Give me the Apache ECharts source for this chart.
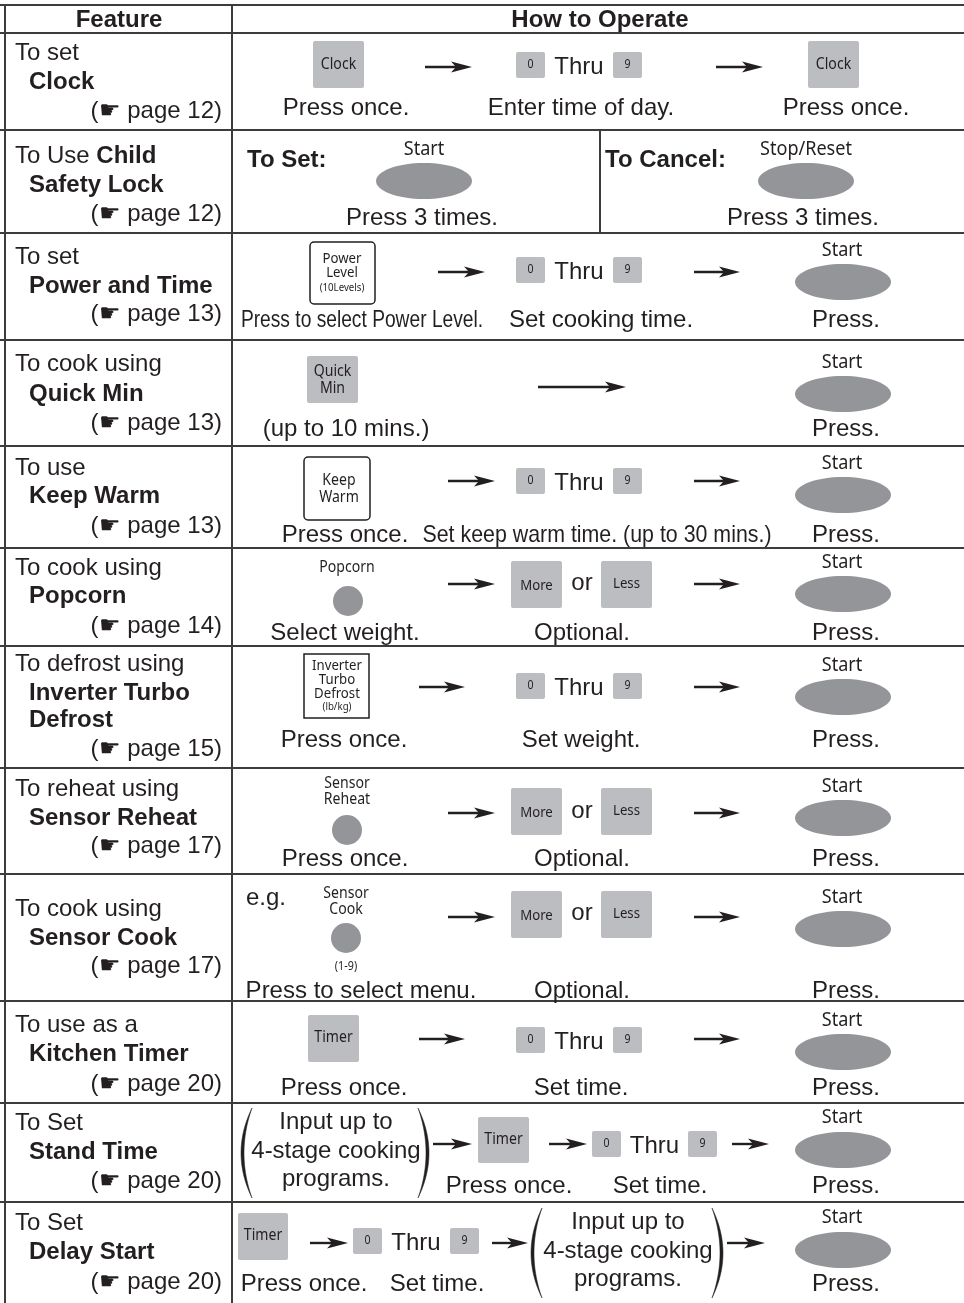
<!DOCTYPE html>
<html><head><meta charset="utf-8">
<script src="https://cdn.jsdelivr.net/npm/echarts@6/dist/echarts.min.js"></script>
<style>html,body{margin:0;padding:0;background:#fff}#c{width:964px;height:1303px}</style>
</head><body><div id="c"></div>
<script>
// ================= CONTENT =================
const headers = ['Feature', 'How to Operate'];
const featureIntro = ['To set', 'To Use ', 'To set', 'To cook using', 'To use', 'To cook using', 'To defrost using', 'To reheat using', 'To cook using', 'To use as a', 'To Set', 'To Set'];
const featureName = ['Clock', 'Child', 'Power and Time', 'Quick Min', 'Keep Warm', 'Popcorn', 'Inverter Turbo', 'Sensor Reheat', 'Sensor Cook', 'Kitchen Timer', 'Stand Time', 'Delay Start'];
const featureName2 = ['', 'Safety Lock', '', '', '', '', 'Defrost', '', '', '', '', ''];
const pageRefs = ['12', '12', '13', '13', '13', '14', '15', '17', '17', '20', '20', '20'];
const keyLabels = {
  clock: ['Clock'], power: ['Power', 'Level', '(10Levels)'], quick: ['Quick', 'Min'],
  keep: ['Keep', 'Warm'], popcorn: ['Popcorn'], defrost: ['Inverter', 'Turbo', 'Defrost', '(lb/kg)'],
  reheat: ['Sensor', 'Reheat'], cook: ['Sensor', 'Cook', '(1-9)'], timer: ['Timer'],
  more: 'More', less: 'Less', zero: '0', nine: '9', start: 'Start', stop: 'Stop/Reset'
};
const words = { thru: 'Thru', or: 'or', eg: 'e.g.', toSet: 'To Set:', toCancel: 'To Cancel:' };
const program = ['Input up to', '4-stage cooking', 'programs.'];
const captions = [
  ['Press once.', 'Enter time of day.', 'Press once.'],
  ['Press 3 times.', 'Press 3 times.'],
  ['Press to select Power Level.', 'Set cooking time.', 'Press.'],
  ['(up to 10 mins.)', 'Press.'],
  ['Press once.', 'Set keep warm time. (up to 30 mins.)', 'Press.'],
  ['Select weight.', 'Optional.', 'Press.'],
  ['Press once.', 'Set weight.', 'Press.'],
  ['Press once.', 'Optional.', 'Press.'],
  ['Press to select menu.', 'Optional.', 'Press.'],
  ['Press once.', 'Set time.', 'Press.'],
  ['Press once.', 'Set time.', 'Press.'],
  ['Press once.', 'Set time.', 'Press.']
];

// ================= LAYOUT / STYLE =================
const INK = '#231f20', LINE = '#3c3c3c', KEY = '#bcbdc0', BTN = '#939598';
const SANS = '"Liberation Sans", Arial, Helvetica, sans-serif';
const KEYF = '"Noto Sans", "Open Sans", sans-serif';
const BODY = 24, TEXT_DY = 1.5;
const els = [];
const T = (x, y, text, o) => els.push(Object.assign({ k: 't', x, y, text }, o || {}));
const R = (x1, y1, x2, y2, o) => els.push(Object.assign({ k: 'r', x1, y1, x2, y2 }, o || {}));
const E = (cx, cy, rx, ry) => els.push({ k: 'e', cx, cy, rx, ry });
const C = (cx, cy, r) => els.push({ k: 'c', cx, cy, r });
const A = (x1, x2, y) => els.push({ k: 'a', x1, x2, y });
const L = (x1, y1, x2, y2, w) => els.push({ k: 'l', x1, y1, x2, y2, w: w || 1.8 });
const P = (x, y1, y2, dir) => els.push({ k: 'p', x, y1, y2, dir });

const body = (x, y, text, extra) => T(x, y, text, Object.assign({ size: BODY }, extra || {}));
const cap = (x, y, text) => body(x, y, text, { align: 'center' });
const narrow = (x, y, text, sx) => body(x, y, text, { align: 'center', sx: sx });
const grayKey = (x1, y1, x2, y2, lines, size, dy) => {
  R(x1, y1, x2, y2, { fill: KEY, r: 2 });
  const cx = (x1 + x2) / 2, cy = (y1 + y2) / 2 + (dy || 0);
  const lh = size + 1;
  lines.forEach((s, i) => T(cx, cy + (i - (lines.length - 1) / 2) * lh, s, { font: KEYF, size, align: 'center', sx: 0.88 }));
};
const digits = (x0, y, x9) => {
  grayKey(x0, y - 13, x0 + 29, y + 13, [keyLabels.zero], 12);
  body((x0 + 29 + x9) / 2, y + 1, words.thru, { align: 'center' });
  grayKey(x9, y - 13, x9 + 29, y + 13, [keyLabels.nine], 12);
};
const startBtn = (ty, ey, cx, label) => {
  T(cx || 842, ty, label || keyLabels.start, { font: KEYF, size: 19, align: 'center', sx: 0.95 });
  E(cx || 843, ey, 48, 18);
};
const moreLess = (ytop, ly) => {
  grayKey(511, ytop, 562, ytop + 47, [keyLabels.more], 15, 1);
  body(582, ly, words.or, { align: 'center' });
  grayKey(601, ytop, 652, ytop + 47, [keyLabels.less], 15, -1);
};
const programText = (cx, y) => program.forEach((s, i) => cap(cx, y + i * 28.5, s));

// --- table frame ---
const rowEdges = [33, 130, 233, 340, 446, 548, 646, 768, 874, 1001, 1103, 1202];
L(0, 5, 964, 5, 2);
rowEdges.forEach(y => L(0, y, 964, y, 2));
L(5, 5, 5, 1303, 2);
L(232, 5, 232, 1303, 2);
L(600, 130, 600, 233, 2);

// --- header ---
T(119, 19, headers[0], { size: BODY, bold: true, align: 'center' });
T(600, 19, headers[1], { size: BODY, bold: true, align: 'center' });

// --- feature column ---
const introY = [52, 155, 256, 363, 467, 567, 663, 788, 908, 1024, 1122, 1222];
const nameY = [81, 184, 285, 393, 495, 595, 692, 817, 937, 1053, 1151, 1251];
const pageY = [110, 213, 313, 422, 525, 625, 748, 845, 965, 1083, 1180, 1281];
featureIntro.forEach((s, i) => {
  if (i === 1) {
    body(15, introY[i], s, { rich: featureName[i] });
    body(29, nameY[i], featureName2[i], { bold: true });
  } else {
    body(15, introY[i], s);
    body(29, nameY[i], featureName[i], { bold: true });
    if (featureName2[i]) body(29, 719, featureName2[i], { bold: true });
  }
  body(222, pageY[i], '(\u261B page ' + pageRefs[i] + ')', { align: 'right' });
});

// --- row 1: Clock ---
grayKey(313, 41, 364, 88, keyLabels.clock, 16);
A(425, 472, 67);
digits(516, 65, 613);
A(716, 763, 67);
grayKey(808, 41, 859, 88, keyLabels.clock, 16);
cap(346, 107, captions[0][0]); cap(581, 107, captions[0][1]); cap(846, 107, captions[0][2]);

// --- row 2: Child Safety Lock ---
body(247, 159, words.toSet, { bold: true });
startBtn(150, 181, 424);
cap(422, 217, captions[1][0]);
body(605, 159, words.toCancel, { bold: true });
startBtn(150, 181, 806, keyLabels.stop);
cap(803, 217, captions[1][1]);

// --- row 3: Power and Time ---
R(310, 242, 375, 304, { fill: '#fff', stroke: INK, r: 4 });
T(342, 259, keyLabels.power[0], { font: KEYF, size: 15, align: 'center', sx: 0.88 });
T(342, 273, keyLabels.power[1], { font: KEYF, size: 15, align: 'center', sx: 0.88 });
T(342, 288, keyLabels.power[2], { font: KEYF, size: 11, align: 'center', sx: 0.88 });
A(438, 485, 272);
digits(516, 270, 613);
A(694, 740, 272);
startBtn(251, 282);
narrow(362, 319, captions[2][0], 0.8); cap(601, 319, captions[2][1]); cap(846, 319, captions[2][2]);

// --- row 4: Quick Min ---
grayKey(307, 356, 358, 403, keyLabels.quick, 16);
A(538, 626, 387);
startBtn(363, 394);
cap(346, 428, captions[3][0]); cap(846, 428, captions[3][1]);

// --- row 5: Keep Warm ---
R(304, 457, 370, 520, { fill: '#fff', stroke: INK, r: 4 });
T(339, 480, keyLabels.keep[0], { font: KEYF, size: 16, align: 'center', sx: 0.88 });
T(339, 497, keyLabels.keep[1], { font: KEYF, size: 16, align: 'center', sx: 0.88 });
A(448, 495, 481);
digits(516, 481, 613);
A(694, 740, 481);
startBtn(464, 495);
cap(345, 534, captions[4][0]); narrow(597, 534, captions[4][1], 0.89); cap(846, 534, captions[4][2]);

// --- row 6: Popcorn ---
T(347, 567, keyLabels.popcorn[0], { font: KEYF, size: 16, align: 'center', sx: 0.88 });
C(348, 601, 15);
A(448, 495, 584);
moreLess(561, 582);
A(694, 740, 584);
startBtn(563, 594);
cap(345, 632, captions[5][0]); cap(582, 632, captions[5][1]); cap(846, 632, captions[5][2]);

// --- row 7: Inverter Turbo Defrost ---
R(304, 654, 369, 718, { fill: '#fff', stroke: INK, r: 0 });
keyLabels.defrost.forEach((s, i) => T(337, [666, 680, 694, 707][i], s, { font: KEYF, size: i === 3 ? 11 : 15, align: 'center', sx: 0.88 }));
A(419, 465, 687);
digits(516, 686, 613);
A(694, 740, 687);
startBtn(666, 697);
cap(344, 739, captions[6][0]); cap(581, 739, captions[6][1]); cap(846, 739, captions[6][2]);

// --- row 8: Sensor Reheat ---
T(347, 783, keyLabels.reheat[0], { font: KEYF, size: 16, align: 'center', sx: 0.88 });
T(347, 799, keyLabels.reheat[1], { font: KEYF, size: 16, align: 'center', sx: 0.88 });
C(347, 830, 15);
A(448, 495, 813);
moreLess(788, 810);
A(694, 740, 813);
startBtn(787, 818);
cap(345, 858, captions[7][0]); cap(582, 858, captions[7][1]); cap(846, 858, captions[7][2]);

// --- row 9: Sensor Cook ---
body(246, 897, words.eg);
T(346, 893, keyLabels.cook[0], { font: KEYF, size: 16, align: 'center', sx: 0.88 });
T(346, 909, keyLabels.cook[1], { font: KEYF, size: 16, align: 'center', sx: 0.88 });
C(346, 938, 15);
T(346, 967, keyLabels.cook[2], { font: KEYF, size: 12, align: 'center', sx: 0.9 });
A(448, 495, 917);
moreLess(891, 912);
A(694, 740, 917);
startBtn(898, 929);
cap(361, 990, captions[8][0]); cap(582, 990, captions[8][1]); cap(846, 990, captions[8][2]);

// --- row 10: Kitchen Timer ---
grayKey(308, 1015, 359, 1062, keyLabels.timer, 16, -1);
A(419, 465, 1039);
digits(516, 1040, 613);
A(694, 740, 1039);
startBtn(1021, 1052);
cap(344, 1087, captions[9][0]); cap(581, 1087, captions[9][1]); cap(846, 1087, captions[9][2]);

// --- row 11: Stand Time ---
P(252, 1108, 1198, -1); P(418, 1108, 1198, 1);
programText(336, 1121);
A(433, 472, 1144);
grayKey(478, 1117, 529, 1163, keyLabels.timer, 16, -1);
A(549, 587, 1144);
digits(592, 1144, 688);
A(732, 769, 1144);
startBtn(1118, 1150);
cap(509, 1185, captions[10][0]); cap(660, 1185, captions[10][1]); cap(846, 1185, captions[10][2]);

// --- row 12: Delay Start ---
grayKey(238, 1213, 288, 1260, keyLabels.timer, 16, -1);
A(310, 348, 1243);
digits(353, 1241, 450);
A(492, 528, 1243);
P(542, 1208, 1298, -1); P(712, 1208, 1298, 1);
programText(628, 1221);
A(727, 765, 1243);
startBtn(1218, 1250);
cap(304, 1283, captions[11][0]); cap(437, 1283, captions[11][1]); cap(846, 1283, captions[11][2]);

// ================= RENDER =================
function renderItem(params, api) {
  const e = els[params.dataIndex];
  const c = (x, y) => api.coord([x, y]);
  if (e.k === 't') {
    const p = c(e.x, e.y + (e.font ? 0 : TEXT_DY));
    const font = (e.bold ? 'bold ' : '') + e.size + 'px ' + (e.font || SANS);
    if (e.rich) {
      return { type: 'text', x: p[0], y: p[1], style: {
        text: '{n|' + e.text + '}{b|' + e.rich + '}', verticalAlign: 'middle', align: 'left',
        rich: { n: { font: font, fill: INK }, b: { font: 'bold ' + font, fill: INK } } } };
    }
    const el = { type: 'text', x: p[0], y: p[1], style: {
      text: e.text, font: font, fill: INK, align: e.align || 'left', verticalAlign: 'middle' } };
    if (e.sx) { el.scaleX = e.sx; }
    return el;
  }
  if (e.k === 'r') {
    const a = c(e.x1, e.y1), b = c(e.x2, e.y2);
    return { type: 'rect', shape: { x: a[0], y: a[1], width: b[0] - a[0], height: b[1] - a[1], r: e.r || 0 },
      style: { fill: e.fill, stroke: e.stroke || null, lineWidth: e.stroke ? 1.5 : 0 } };
  }
  if (e.k === 'e') {
    const p = c(e.cx, e.cy);
    return { type: 'ellipse', shape: { cx: p[0], cy: p[1], rx: e.rx, ry: e.ry }, style: { fill: BTN } };
  }
  if (e.k === 'c') {
    const p = c(e.cx, e.cy);
    return { type: 'circle', shape: { cx: p[0], cy: p[1], r: e.r }, style: { fill: BTN } };
  }
  if (e.k === 'l') {
    const a = c(e.x1, e.y1), b = c(e.x2, e.y2);
    return { type: 'line', shape: { x1: a[0], y1: a[1], x2: b[0], y2: b[1] }, style: { stroke: LINE, lineWidth: e.w } };
  }
  if (e.k === 'a') {
    const a = c(e.x1, e.y), b = c(e.x2, e.y);
    const y = a[1], tip = b[0];
    return { type: 'group', children: [
      { type: 'line', shape: { x1: a[0], y1: y, x2: tip - 12, y2: y }, style: { stroke: INK, lineWidth: 2.4 } },
      { type: 'polygon', shape: { points: [[tip, y], [tip - 21, y - 5.5], [tip - 16, y], [tip - 21, y + 5.5]] }, style: { fill: INK } }
    ] };
  }
  if (e.k === 'p') {
    const top = c(e.x, e.y1), bot = c(e.x, e.y2);
    const x0 = top[0], y1 = top[1], y2 = bot[1], ym = (y1 + y2) / 2;
    const outer = x0 + e.dir * 22, inner = x0 + e.dir * 16;
    const pts = [];
    for (let i = 0; i <= 30; i++) { const t = i / 30; pts.push([(1 - t) * (1 - t) * x0 + 2 * t * (1 - t) * outer + t * t * x0, (1 - t) * (1 - t) * y1 + 2 * t * (1 - t) * ym + t * t * y2]); }
    for (let i = 30; i >= 0; i--) { const t = i / 30; pts.push([(1 - t) * (1 - t) * x0 + 2 * t * (1 - t) * inner + t * t * x0, (1 - t) * (1 - t) * y1 + 2 * t * (1 - t) * ym + t * t * y2]); }
    return { type: 'polygon', shape: { points: pts }, style: { fill: INK, stroke: INK, lineWidth: 0.5 } };
  }
  return null;
}

const chart = echarts.init(document.getElementById('c'), null, { renderer: 'canvas' });
chart.setOption({
  animation: false,
  backgroundColor: '#fff',
  grid: { left: 0, right: 0, top: 0, bottom: 0 },
  xAxis: { type: 'value', min: 0, max: 964, show: false },
  yAxis: { type: 'value', min: 0, max: 1303, inverse: true, show: false },
  series: [{ type: 'custom', coordinateSystem: 'cartesian2d', clip: false, renderItem: renderItem,
    data: els.map((e, i) => [i]), encode: { x: -1, y: -1 } }]
});
</script></body></html>
